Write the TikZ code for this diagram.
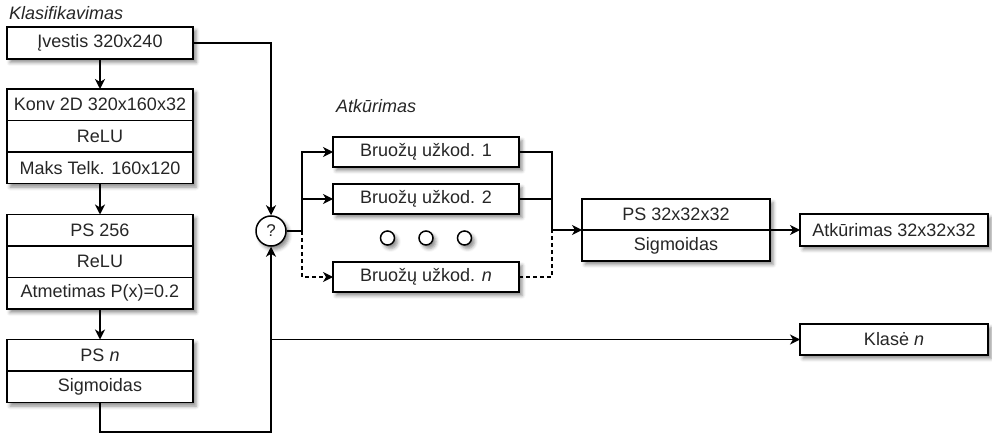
\documentclass[tikz,border=0pt]{standalone}
\usepackage{fontspec}
\setmainfont{Liberation Sans}
\usetikzlibrary{arrows.meta,shadows.blur}

\begin{document}
\begin{tikzpicture}[x=1pt,y=-1pt,
  every node/.style={font=\fontsize{18}{21}\selectfont, text=black!85},
  soft/.style={blur shadow={shadow xshift=3pt, shadow yshift=-3.5pt,
      shadow blur radius=3.5pt, shadow opacity=45}},
  groupbox/.style={draw, line width=1.5pt, fill=white, soft,
      inner sep=0pt, outer sep=0pt},
  cell/.style={draw, line width=1.5pt, fill=white, inner sep=0pt,
      outer sep=0pt, minimum height=31.5pt},
  single/.style={groupbox, minimum height=31pt},
  ring/.style={circle, draw, line width=1.5pt, fill=white, soft, inner sep=0pt},
  link/.style={line width=1.5pt},
  arr/.style={link, -{Stealth[length=10pt, width=10pt, inset=3pt]}},
  dashy/.style={dash pattern=on 4pt off 3pt},
  title/.style={font=\fontsize{18}{21}\selectfont\itshape, anchor=west, inner sep=0pt}
]
\useasboundingbox (0,0) rectangle (992,438);

% section titles
\node[title] (t1) at (9,13) {Klasifikavimas};
\node[title] (t2) at (336,106) {Atkūrimas};

% classifier column
\node[single, minimum width=186pt, minimum height=32pt] (in) at (100,43) {Įvestis 320x240};

\node[groupbox, minimum width=186pt, minimum height=94.5pt] (konv) at (100,136.25) {};
\node[cell, minimum width=186pt] (c1) at (100,104.75) {Konv 2D 320x160x32};
\node[cell, minimum width=186pt] (c2) at (100,136.25) {ReLU};
\node[cell, minimum width=186pt] (c3) at (100,167.75) {Maks Telk. 160x120};

\node[groupbox, minimum width=186pt, minimum height=94.5pt] (fc) at (100,261.75) {};
\node[cell, minimum width=186pt] (f1) at (100,230.25) {PS 256};
\node[cell, minimum width=186pt] (f2) at (100,261.75) {ReLU};
\node[cell, minimum width=186pt] (f3) at (100,293.25) {Atmetimas P(x)=0.2};

\node[groupbox, minimum width=186pt, minimum height=63pt] (out) at (100,371) {};
\node[cell, minimum width=186pt] (o1) at (100,355.25) {PS \textit{n}};
\node[cell, minimum width=186pt] (o2) at (100,386.75) {Sigmoidas};

% switch
\node[ring, minimum size=30pt] (q) at (271,231) {\fontsize{17}{20}\selectfont ?};

% feature encoders
\node[single, minimum width=186pt, minimum height=30pt] (b1) at (426,152) {Bruožų užkod. 1};
\node[single, minimum width=186pt, minimum height=30pt] (b2) at (426,199) {Bruožų užkod. 2};
\node[single, minimum width=186pt, minimum height=30pt] (bn) at (426,277) {Bruožų užkod. \textit{n}};

\node[ring, minimum size=14pt] (d1) at (387.5,238) {};
\node[ring, minimum size=14pt] (d2) at (426,238) {};
\node[ring, minimum size=14pt] (d3) at (464.5,238) {};

% decoder
\node[groupbox, minimum width=188pt, minimum height=62pt] (dec) at (676,230) {};
\node[cell, minimum width=188pt, minimum height=31pt] (e1) at (676,214.5) {PS 32x32x32};
\node[cell, minimum width=188pt, minimum height=31pt] (e2) at (676,245.5) {Sigmoidas};

% outputs
\node[single, minimum width=188pt, minimum height=32pt] (rec) at (894,230) {Atkūrimas 32x32x32};
\node[single, minimum width=188pt, minimum height=31pt] (cls) at (894,339.5) {Klasė \textit{n}};

% helper points
\coordinate (low) at (100,432);
\coordinate (split) at (302,231);
\coordinate (merge) at (552,230);

% classifier flow
\draw[arr] (in.south) -- (konv.north);
\draw[arr] (konv.south) -- (fc.north);
\draw[arr] (fc.south) -- (out.north);
\draw[arr] (in.east) -| (q.north);
\draw[arr] (out.south) -- (low) -| (q.south);
\draw[arr] (q.south |- cls.west) -- (cls.west);

% branching to the encoders
\draw[link] (q.east) -- (split);
\draw[arr] (split) |- (b1.west);
\draw[arr] (split) |- (b2.west);
\draw[arr, dashy] (split) |- (bn.west);

% merging into the decoder
\draw[link] (b1.east) -| (merge);
\draw[link] (b2.east) -| (merge);
\draw[link, dashy] (bn.east) -| (merge);
\draw[arr] (merge) -- (dec.west);
\draw[arr] (dec.east) -- (rec.west);
\end{tikzpicture}
\end{document}
